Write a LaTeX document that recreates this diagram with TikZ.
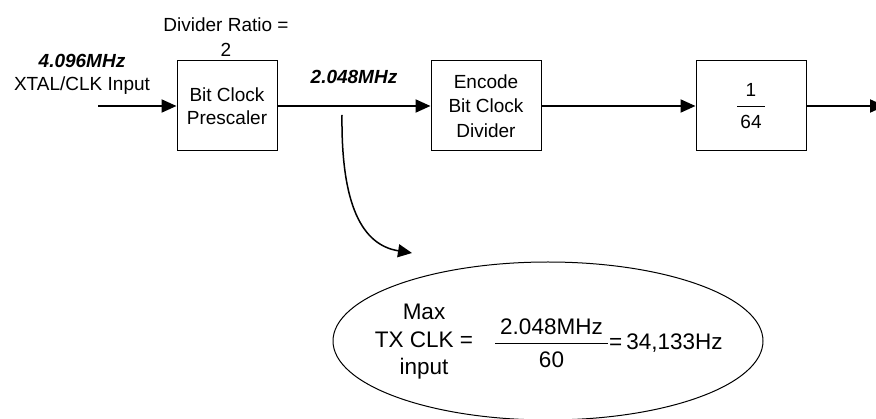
\documentclass[tikz,border=0pt]{standalone}
\usepackage{fontspec}
\setmainfont{Liberation Sans}
\usetikzlibrary{arrows.meta,shapes.geometric}
% stacked fraction: {bar width}{numerator}{denominator}{gap above bar}{gap below bar}
\newcommand\barfrac[5]{\vbox{\offinterlineskip\halign{\hfil##\hfil\cr #2\cr\noalign{\kern#4}\vrule width #1 height 0.9pt depth 0pt\cr\noalign{\kern#5}#3\cr}}}
\begin{document}
\begin{tikzpicture}[x=1pt, y=-1pt,
  blk/.style={draw, line width=1pt, minimum height=90pt, inner sep=0pt, align=center, font=\fontsize{19}{22.5}\selectfont},
  lbl/.style={inner sep=0pt, align=center, font=\fontsize{19}{23}\selectfont},
  flow/.style={line width=2pt, -{Triangle[length=15pt,width=13pt]}},
  tapline/.style={line width=1.5pt, -{Triangle[length=14pt,width=13pt]}},
  eqtext/.style={inner sep=0pt, align=center, font=\fontsize{22.5}{27.5}\selectfont}]
\useasboundingbox (0,0) rectangle (876,419);
% blocks
\node[blk, minimum width=100pt] (pre) at (227,106) {Bit Clock\\Prescaler};
\node[blk, minimum width=110pt, font=\fontsize{19}{24.5}\selectfont] (enc) at (486,106) {Encode\\Bit Clock\\Divider};
\node[blk, minimum width=110pt] (div) at (751,106) {\barfrac{28pt}{1}{64}{9pt}{8.5pt}};
% labels
\node[lbl, font=\fontsize{19}{25}\selectfont] (ratio) at (226,37.5) {Divider Ratio =\\2};
\node[lbl] (inlbl) at (82,74.5) {\textbf{\textit{4.096MHz}}\\XTAL/CLK Input};
\node[lbl, font=\fontsize{19}{23}\selectfont\bfseries\itshape] (f2) at (354,77) {2.048MHz};
% connectors
\coordinate (in) at (98,106);
\coordinate (out) at (885,106);
\coordinate (tap) at (342,115);
\coordinate (tip) at (412,253);
\draw[flow] (in) -- (pre);
\draw[flow] (pre) -- (enc);
\draw[flow] (enc) -- (div);
\draw[flow] (div) -- (out);
\draw[tapline] (tap) .. controls (341,205) and (362,245) .. (tip);
% equation bubble
\node[draw, ellipse, line width=1pt, minimum width=430pt, minimum height=158pt, inner sep=0pt] (eq) at (548,341) {};
\node[eqtext] (lhs) at (424,341.8) {Max\\TX CLK =\\input};
\node[eqtext] (frac) at (551.5,343.5) {\barfrac{113pt}{2.048MHz}{60}{7.6pt}{8.6pt}};
\node[eqtext, anchor=base west] (res) at (609,350) {=\kern4pt 34,133Hz};
\end{tikzpicture}
\end{document}
